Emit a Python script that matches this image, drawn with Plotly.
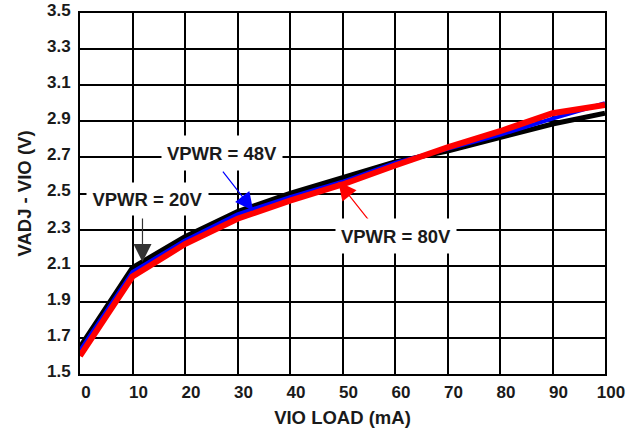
import plotly.graph_objects as go

load_ma = [0, 10, 20, 30, 40, 50, 60, 70, 80, 90, 100]
vpwr_20v = [1.65, 2.09, 2.26, 2.40, 2.50, 2.585, 2.675, 2.735, 2.81, 2.885, 2.945]
vpwr_48v = [1.63, 2.065, 2.24, 2.385, 2.48, 2.565, 2.67, 2.745, 2.825, 2.915, 3.00]
vpwr_80v = [1.60, 2.04, 2.22, 2.36, 2.46, 2.55, 2.655, 2.755, 2.845, 2.945, 2.99]

x_ticks = list(range(0, 101, 10))
y_ticks = [1.5, 1.7, 1.9, 2.1, 2.3, 2.5, 2.7, 2.9, 3.1, 3.3, 3.5]
y_labels = ["1.5", "1.7", "1.9", "2.1", "2.3", "2.5", "2.7", "2.9", "3.1", "3.3", "3.5"]

FONT = "Liberation Sans, Arial, sans-serif"

fig = go.Figure()
fig.add_trace(go.Scatter(x=load_ma, y=vpwr_20v, mode="lines", name="VPWR = 20V",
                         line=dict(color="#000000", width=5)))
fig.add_trace(go.Scatter(x=load_ma, y=vpwr_48v, mode="lines", name="VPWR = 48V",
                         line=dict(color="#0000ff", width=4)))
fig.add_trace(go.Scatter(x=load_ma, y=vpwr_80v, mode="lines", name="VPWR = 80V",
                         line=dict(color="#ff0000", width=6)))

annot_font = dict(family=FONT, size=18.5, color="#1a1a1a")

annotations = [
    # arrows (text-less)
    dict(x=33.0, y=2.405, ax=27.0, ay=2.63, xref="x", yref="y", axref="x", ayref="y",
         text="", showarrow=True, arrowhead=2, arrowsize=3, arrowwidth=1.2,
         arrowcolor="#0000ff", standoff=0),
    dict(x=11.9, y=2.12, ax=11.9, ay=2.37, xref="x", yref="y", axref="x", ayref="y",
         text="", showarrow=True, arrowhead=2, arrowsize=3, arrowwidth=1.2,
         arrowcolor="#333333", standoff=0),
    dict(x=49.2, y=2.565, ax=55.6, ay=2.33, xref="x", yref="y", axref="x", ayref="y",
         text="", showarrow=True, arrowhead=2, arrowsize=3, arrowwidth=1.2,
         arrowcolor="#ff0000", standoff=0),
    # labels with white boxes
    dict(x=27.0, y=2.722, xref="x", yref="y", text="<b>VPWR = 48V</b>", showarrow=False,
         font=annot_font, bgcolor="#ffffff", width=120, height=34, borderpad=0),
    dict(x=12.8, y=2.47, xref="x", yref="y", text="<b>VPWR = 20V</b>", showarrow=False,
         font=annot_font, bgcolor="#ffffff", width=121, height=32, borderpad=0),
    dict(x=60.2, y=2.267, xref="x", yref="y", text="<b>VPWR = 80V</b>", showarrow=False,
         font=annot_font, bgcolor="#ffffff", width=120, height=34, borderpad=0),
]

fig.update_layout(
    width=639, height=430,
    margin=dict(l=80, r=34, t=13, b=56),
    paper_bgcolor="#ffffff", plot_bgcolor="#ffffff",
    showlegend=False,
    font=dict(family=FONT, color="#1a1a1a"),
    annotations=annotations,
)

fig.update_xaxes(
    range=[0, 100], tickvals=x_ticks, ticktext=[f"<b>{v}</b>" for v in x_ticks],
    showgrid=True, gridcolor="#000000", gridwidth=2,
    showline=True, linecolor="#000000", linewidth=2, mirror=True,
    zeroline=False, ticks="", ticklabelshift=6, ticklabelstandoff=2,
    automargin=False, ticklabeloverflow="allow",
    tickfont=dict(family=FONT, size=17, color="#1a1a1a"),
    title=dict(text="<b>VIO LOAD (mA)</b>", font=dict(family=FONT, size=18.5, color="#1a1a1a"),
               standoff=10),
)
fig.update_yaxes(
    range=[1.5, 3.5], tickvals=y_ticks, ticktext=[f"<b>{t}</b>" for t in y_labels],
    showgrid=True, gridcolor="#000000", gridwidth=2,
    showline=True, linecolor="#000000", linewidth=2, mirror=True,
    zeroline=False, ticks="", ticklabelshift=-3, ticklabelstandoff=4,
    automargin=False, ticklabeloverflow="allow",
    tickfont=dict(family=FONT, size=17, color="#1a1a1a"),
    title=dict(text="<b>VADJ - VIO (V)</b>", font=dict(family=FONT, size=18.5, color="#1a1a1a"),
               standoff=10),
)

# remove the default page margin so the figure sits at the window's top-left corner
fig.write_html("out.html", config={"displayModeBar": False},
               post_script="document.body.style.margin='0';")
